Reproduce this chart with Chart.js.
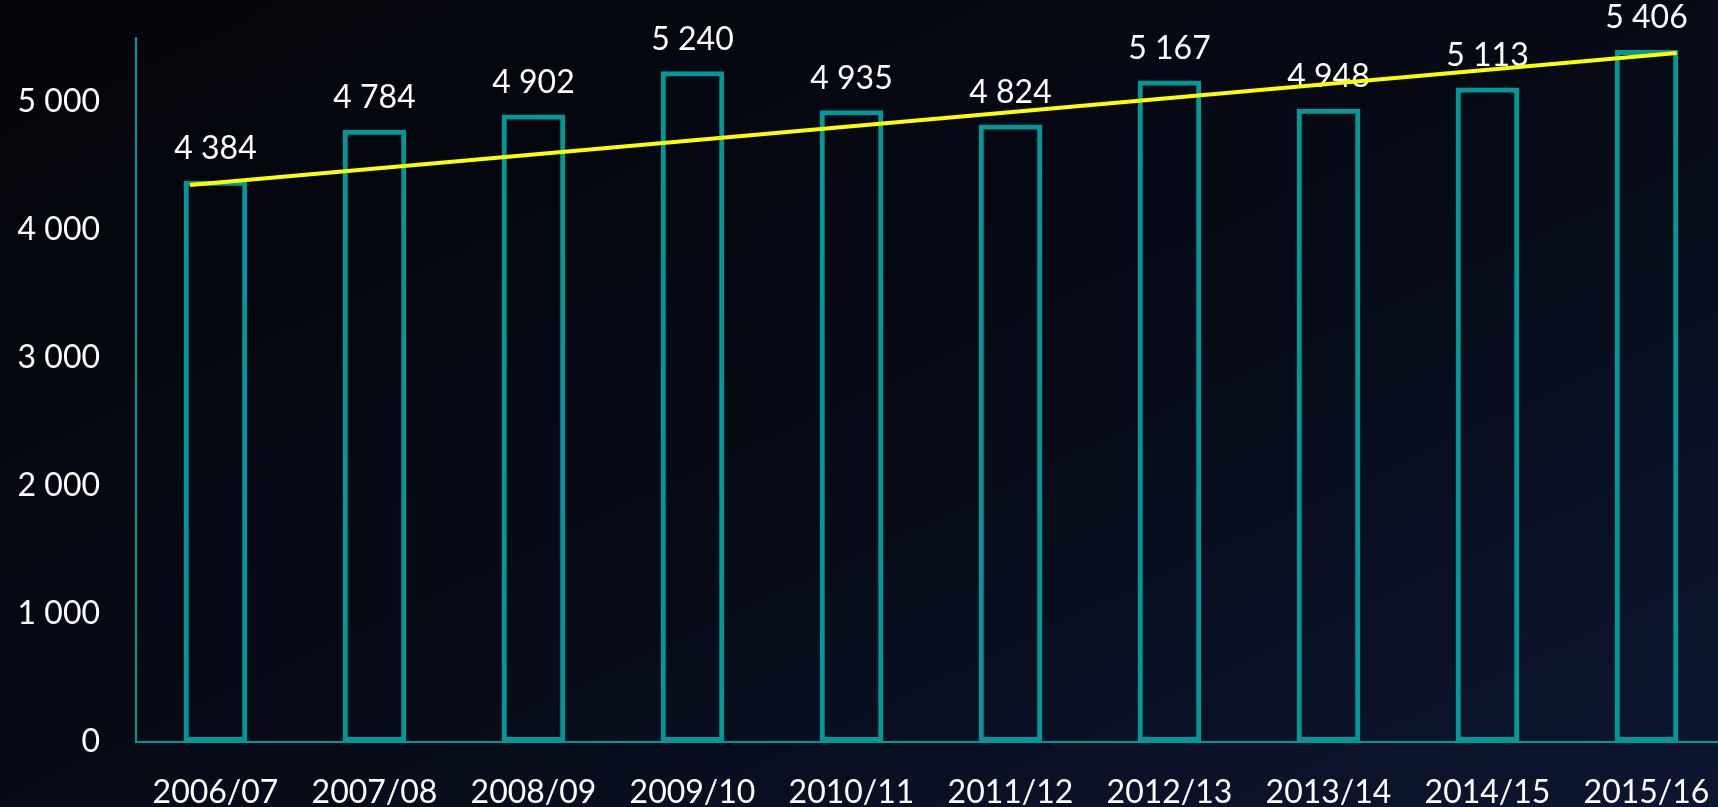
<!DOCTYPE html>
<html>
<head>
<meta charset="utf-8">
<script src="https://cdn.jsdelivr.net/npm/chart.js@4.4.1/dist/chart.umd.min.js"></script>
<style>
    html, body {
        margin: 0;
        padding: 0;
        width: 1718px;
        height: 807px;
        overflow: hidden;
        background: linear-gradient(to bottom right, #030409, #070b17 55%, #0d1632);
    }
    #chartBox {
        position: absolute;
        left: 0;
        top: 0;
    }
</style>
</head>
<body>
<div id="chartBox">
    <canvas id="mainChart" width="1726" height="807"></canvas>
</div>
<script>
const years = ['2006/07', '2007/08', '2008/09', '2009/10', '2010/11', '2011/12', '2012/13', '2013/14', '2014/15', '2015/16'];
const counts = [4384, 4784, 4902, 5240, 4935, 4824, 5167, 4948, 5113, 5406];
const yTicks = [0, 1000, 2000, 3000, 4000, 5000];
// yellow line, its two ends (x in category units)
const trendX = [-0.16, 9.19];
const trendY = [4352, 5383];

const teal = '#00999a';
const fontName = 'Lato, "Open Sans", sans-serif';

function fmt(v) {
    return String(v).replace(/\B(?=(\d{3})+(?!\d))/g, ' ');
}

// value labels over the bars, drawn before the yellow line
const barLabels = {
    id: 'barLabels',
    afterDatasetDraw(chart, args) {
        if (args.index !== 0) return;
        const ctx = chart.ctx;
        ctx.save();
        ctx.fillStyle = '#ffffff';
        ctx.font = '32px ' + fontName;
        ctx.textAlign = 'center';
        ctx.textBaseline = 'middle';
        args.meta.data.forEach((bar, i) => {
            ctx.fillText(fmt(counts[i]), bar.x, bar.y - 32);
        });
        ctx.restore();
    }
};

let chartInstance;

function drawChart() {
    const ctx = document.getElementById('mainChart').getContext('2d');
    chartInstance = new Chart(ctx, {
        type: 'bar',
        data: {
            datasets: [{
                type: 'bar',
                data: counts.map((v, i) => ({ x: i, y: v })),
                backgroundColor: 'rgba(0,0,0,0)',
                borderColor: teal,
                borderWidth: 5,
                borderSkipped: false,
                grouped: false,
                categoryPercentage: 1,
                barPercentage: 0.4,
                order: 1
            }, {
                type: 'line',
                data: trendX.map((x, i) => ({ x: x, y: trendY[i] })),
                borderColor: '#ffff00',
                borderWidth: 4,
                pointRadius: 0,
                fill: false,
                order: 0
            }]
        },
        options: {
            responsive: false,
            animation: false,
            layout: { padding: { top: 38, right: 0, left: 0, bottom: 0 } },
            plugins: {
                legend: { display: false },
                tooltip: { enabled: false }
            },
            scales: {
                x: {
                    type: 'linear',
                    offset: false,
                    min: -0.5,
                    max: 9.5,
                    grid: { display: false, drawTicks: false },
                    border: { display: true, color: teal, width: 2 },
                    ticks: {
                        color: '#ffffff',
                        font: { size: 32, family: fontName },
                        padding: 31,
                        maxRotation: 0,
                        autoSkip: false,
                        callback: v => years[v]
                    },
                    afterBuildTicks(axis) {
                        axis.ticks = years.map((y, i) => ({ value: i }));
                    },
                    afterFit(axis) {
                        axis.height = 65;
                        axis.paddingLeft = 0;
                        axis.paddingRight = 0;
                    }
                },
                y: {
                    min: 0,
                    max: 5500,
                    grid: { display: false, drawTicks: false },
                    border: { display: true, color: teal, width: 2 },
                    ticks: {
                        color: '#ffffff',
                        font: { size: 32, family: fontName },
                        padding: 36,
                        callback: v => fmt(v)
                    },
                    afterBuildTicks(axis) {
                        axis.ticks = yTicks.map(v => ({ value: v }));
                    },
                    afterFit(axis) {
                        axis.width = 136;
                        axis.paddingTop = 0;
                        axis.paddingBottom = 0;
                    }
                }
            }
        },
        plugins: [barLabels]
    });
}

document.addEventListener('DOMContentLoaded', function () {
    drawChart();
});
</script>
</body>
</html>
